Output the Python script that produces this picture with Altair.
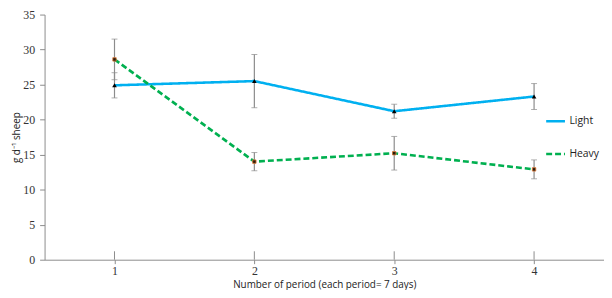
import altair as alt
import pandas as pd

periods = ["1", "2", "3", "4"]
light_mean = [24.9, 25.5, 21.2, 23.3]
light_err = [1.8, 3.8, 1.0, 1.85]
heavy_mean = [28.6, 14.0, 15.2, 12.9]
heavy_err = [2.9, 1.3, 2.4, 1.35]
series_names = ["Light", "Heavy"]
y_ticks = [0, 5, 10, 15, 20, 25, 30, 35]

rows = []
for name, means, errs in [("Light", light_mean, light_err), ("Heavy", heavy_mean, heavy_err)]:
    for p, m, e in zip(periods, means, errs):
        rows.append({"period": p, "series": name, "value": m, "lo": m - e, "hi": m + e})
df = pd.DataFrame(rows)

tick_df = pd.DataFrame({"period": periods, "y0": [0] * 4, "y1": [1.2] * 4})

SERIF = "Liberation Serif"

x_axis = alt.Axis(title="Number of period (each period= 7 days)", labelAngle=0,
                  tickSize=4, labelPadding=2, titlePadding=3)
x_scale = alt.Scale(type="point", padding=0.5, domain=periods)
y_scale = alt.Scale(domain=[0, 35], nice=False)
y_axis = alt.Axis(title="g d⁻¹ sheep", values=y_ticks, grid=False, labelOverlap=False,
                  tickSize=5, labelPadding=5, titlePadding=1)


def X():
    return alt.X("period:O", scale=x_scale, axis=x_axis)


def Y(field):
    return alt.Y(field, scale=y_scale, axis=y_axis)


color_scale = alt.Scale(domain=series_names, range=["#00B0F0", "#00B050"])
dash_scale = alt.Scale(domain=series_names, range=[[1, 0], [6, 3]])

base = alt.Chart(df)

inner_ticks = alt.Chart(tick_df).mark_rule(color="#8c8c8c", strokeWidth=1).encode(
    x=X(), y=Y("y0:Q"), y2="y1:Q")

err_rule = base.mark_rule(color="#8c8c8c", strokeWidth=1.2).encode(
    x=X(), y=Y("lo:Q"), y2="hi:Q")
cap_lo = base.mark_tick(color="#8c8c8c", thickness=1, size=6, orient="horizontal").encode(
    x=X(), y=Y("lo:Q"))
cap_hi = base.mark_tick(color="#8c8c8c", thickness=1, size=6, orient="horizontal").encode(
    x=X(), y=Y("hi:Q"))

lines = base.mark_line(strokeWidth=2.6).encode(
    x=X(),
    y=Y("value:Q"),
    color=alt.Color("series:N", scale=color_scale, title=None,
                    legend=alt.Legend(orient="none", legendX=506, legendY=97,
                                      symbolType="stroke", symbolSize=361,
                                      symbolStrokeWidth=2.6, labelFont="Open Sans",
                                      labelFontSize=10.5, labelColor="#222",
                                      rowPadding=16, labelOffset=3)),
    strokeDash=alt.StrokeDash("series:N", scale=dash_scale, title=None),
    detail="series:N",
)

pts_light = base.transform_filter(alt.datum.series == "Light").mark_point(
    shape="triangle-up", filled=True, color="black", size=22, opacity=1).encode(
    x=X(), y=Y("value:Q"))
pts_heavy = base.transform_filter(alt.datum.series == "Heavy").mark_point(
    shape="square", filled=True, color="#2b1a0a", stroke="#e07b39", strokeWidth=0.8,
    size=12, opacity=1).encode(
    x=X(), y=Y("value:Q"))

chart = alt.layer(inner_ticks, err_rule, cap_lo, cap_hi, lines, pts_light, pts_heavy).properties(
    width=566, height=248,
    autosize=alt.AutoSizeParams(type="none"),
    padding={"left": 37, "top": 5, "right": 0, "bottom": 29},
).configure_view(stroke=None).configure_axis(
    labelFont=SERIF, labelFontSize=12, labelColor="#333",
    titleFont="Open Sans", titleFontSize=10, titleFontWeight="normal", titleColor="#222",
    domainColor="#8c8c8c", tickColor="#8c8c8c", grid=False,
)

chart.save("out.html", embed_options={"renderer": "svg", "actions": False})
